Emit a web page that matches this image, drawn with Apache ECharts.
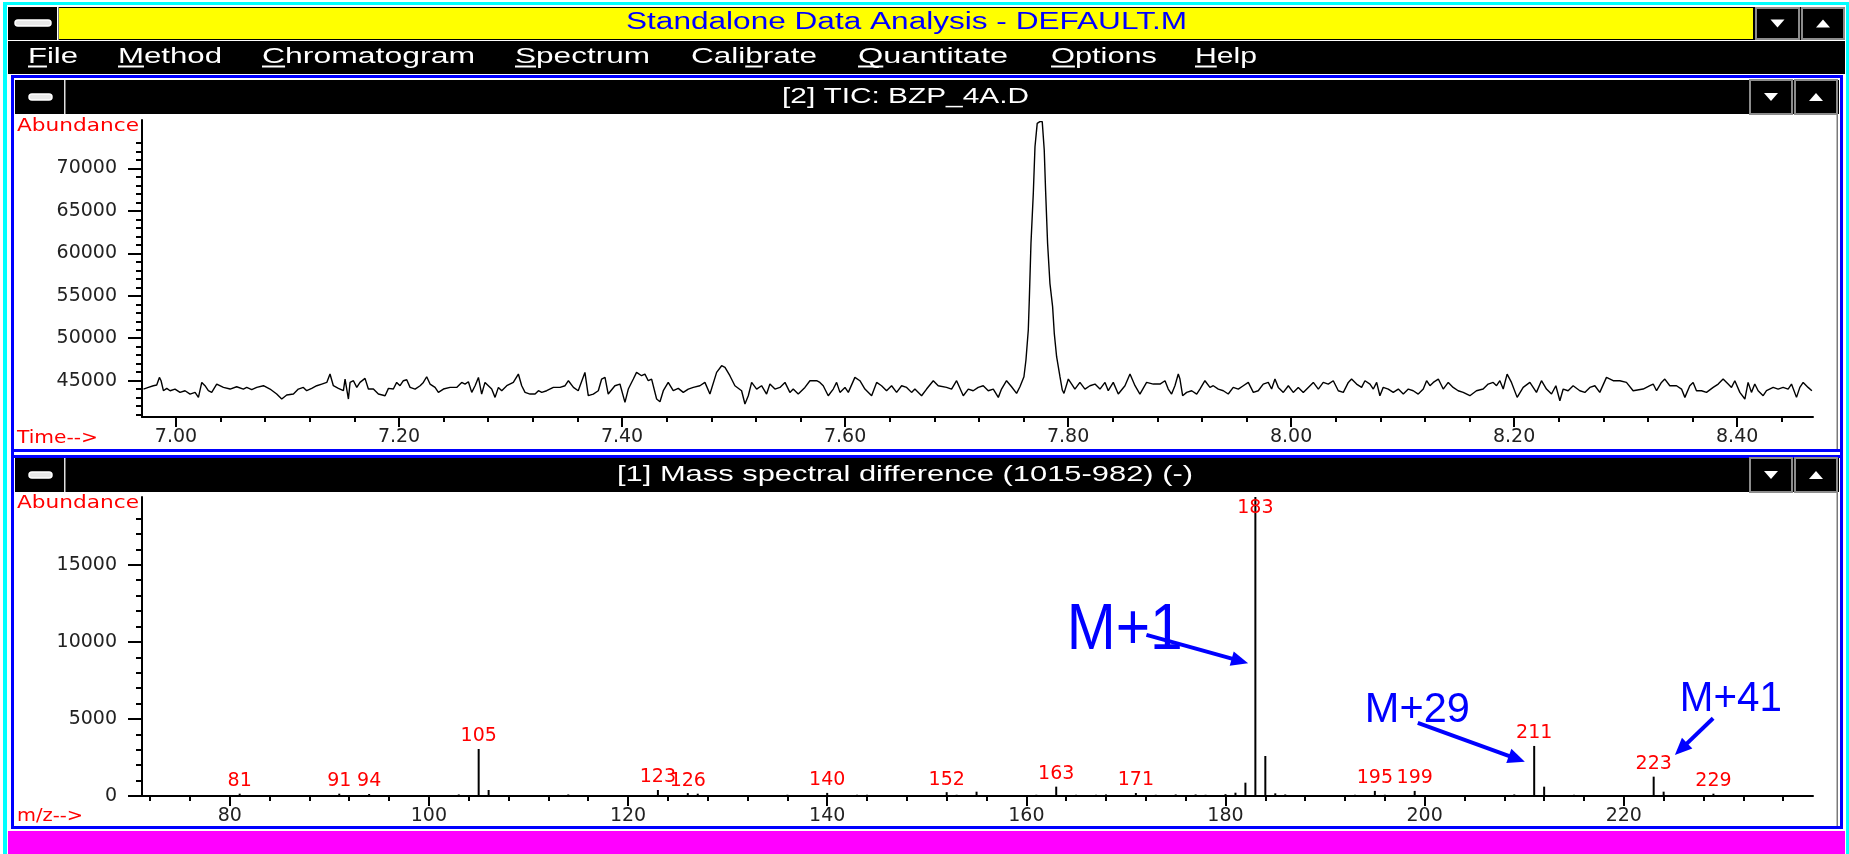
<!DOCTYPE html>
<html><head><meta charset="utf-8">
<script src="https://cdn.jsdelivr.net/npm/echarts@6/dist/echarts.min.js"></script>
<style>html,body{margin:0;padding:0;background:#fff;overflow:hidden}#c{width:1849px;height:854px}</style>
</head><body><div id="c"></div>
<script>
// ---------- DATA ----------
const ticTime = [6.9708,6.9752,6.9797,6.9827,6.9851,6.9866,6.9887,6.9917,6.9947,6.9991,7.0036,7.0081,7.0126,7.0171,7.0201,7.0231,7.0260,7.0290,7.0320,7.0365,7.0425,7.0485,7.0544,7.0604,7.0634,7.0679,7.0724,7.0784,7.0843,7.0903,7.0948,7.0993,7.1053,7.1097,7.1142,7.1172,7.1217,7.1262,7.1307,7.1352,7.1381,7.1411,7.1456,7.1501,7.1516,7.1546,7.1561,7.1591,7.1621,7.1650,7.1695,7.1725,7.1770,7.1815,7.1875,7.1905,7.1949,7.1979,7.2009,7.2039,7.2069,7.2099,7.2144,7.2189,7.2218,7.2248,7.2278,7.2323,7.2353,7.2398,7.2458,7.2517,7.2562,7.2592,7.2622,7.2652,7.2682,7.2712,7.2741,7.2771,7.2801,7.2831,7.2861,7.2891,7.2921,7.2966,7.3025,7.3070,7.3100,7.3130,7.3175,7.3220,7.3250,7.3280,7.3324,7.3384,7.3444,7.3489,7.3519,7.3564,7.3607,7.3667,7.3697,7.3742,7.3787,7.3817,7.3847,7.3876,7.3936,7.3981,7.4026,7.4056,7.4101,7.4130,7.4175,7.4205,7.4235,7.4265,7.4310,7.4340,7.4370,7.4414,7.4459,7.4504,7.4549,7.4594,7.4639,7.4698,7.4743,7.4788,7.4848,7.4893,7.4923,7.4967,7.5012,7.5072,7.5102,7.5132,7.5162,7.5207,7.5251,7.5296,7.5326,7.5371,7.5416,7.5461,7.5505,7.5535,7.5580,7.5640,7.5685,7.5745,7.5774,7.5804,7.5849,7.5894,7.5924,7.5954,7.5999,7.6029,7.6088,7.6133,7.6178,7.6238,7.6283,7.6327,7.6372,7.6417,7.6462,7.6507,7.6552,7.6596,7.6626,7.6686,7.6731,7.6791,7.6835,7.6910,7.6955,7.7000,7.7060,7.7105,7.7149,7.7194,7.7239,7.7284,7.7329,7.7374,7.7403,7.7448,7.7493,7.7538,7.7568,7.7604,7.7622,7.7643,7.7652,7.7667,7.7688,7.7703,7.7723,7.7747,7.7768,7.7786,7.7798,7.7816,7.7837,7.7861,7.7876,7.7897,7.7927,7.7948,7.7963,7.8002,7.8032,7.8061,7.8106,7.8151,7.8196,7.8241,7.8286,7.8331,7.8360,7.8405,7.8450,7.8510,7.8555,7.8600,7.8644,7.8704,7.8764,7.8824,7.8869,7.8898,7.8928,7.8958,7.8988,7.9003,7.9027,7.9063,7.9108,7.9153,7.9182,7.9227,7.9272,7.9302,7.9347,7.9392,7.9436,7.9481,7.9526,7.9571,7.9616,7.9661,7.9705,7.9750,7.9795,7.9825,7.9855,7.9885,7.9930,7.9975,8.0019,8.0064,8.0109,8.0154,8.0199,8.0244,8.0288,8.0333,8.0378,8.0423,8.0468,8.0513,8.0542,8.0587,8.0632,8.0662,8.0707,8.0737,8.0767,8.0796,8.0826,8.0871,8.0916,8.0961,8.1006,8.1051,8.1095,8.1140,8.1185,8.1215,8.1245,8.1275,8.1320,8.1364,8.1409,8.1453,8.1498,8.1543,8.1603,8.1662,8.1722,8.1767,8.1812,8.1842,8.1872,8.1902,8.1937,8.1976,8.2027,8.2081,8.2141,8.2200,8.2245,8.2290,8.2335,8.2374,8.2410,8.2440,8.2484,8.2529,8.2589,8.2634,8.2679,8.2724,8.2768,8.2828,8.2888,8.2948,8.3007,8.3067,8.3157,8.3217,8.3247,8.3277,8.3321,8.3351,8.3396,8.3456,8.3501,8.3531,8.3575,8.3605,8.3635,8.3680,8.3725,8.3785,8.3830,8.3874,8.3919,8.3949,8.3979,8.4024,8.4069,8.4098,8.4128,8.4158,8.4188,8.4233,8.4263,8.4323,8.4367,8.4412,8.4457,8.4487,8.4532,8.4562,8.4592,8.4636,8.4670];
const ticAbund = [44020,44216,44412,44490,45392,45000,43824,44098,43824,44020,43628,43824,43432,43628,43040,44804,44412,43824,43628,44608,44216,44020,44294,44020,44216,43942,44216,44412,44020,43432,42844,43314,43432,44020,44216,43824,44098,44412,44608,44804,45784,44412,44098,43824,45196,42844,44804,45000,44216,44804,45274,44020,44020,43432,43236,44098,44020,44804,44412,45000,45118,44216,44020,44412,44804,45470,44608,44216,43628,44020,44216,44216,44804,44608,44882,43628,44412,45392,43432,44804,44412,44020,43040,44216,43824,44412,44804,45784,44412,43628,43432,43432,43824,43628,43824,44216,44216,44412,45000,44216,43824,45980,43236,43432,43824,45196,45392,43432,44412,44608,42452,44020,45196,45980,45588,45784,45000,45196,42844,42530,43824,44804,43824,44098,43628,44020,44216,44412,44804,43432,45980,46764,46568,45588,44412,43824,42256,43236,44804,44020,44412,43432,44608,44020,44216,44804,43628,44020,43432,44216,45000,45000,44804,44412,43236,44020,44804,43628,44216,43628,45392,45000,44020,43236,44804,44412,43824,44412,43628,44412,44216,43628,44020,43236,44020,45000,44412,44216,44020,45000,43236,44020,43824,44216,44412,43824,44020,43040,44020,45000,44294,43516,44294,45471,47437,50968,54500,61175,67061,72546,75300,75500,75500,72158,67449,61175,56466,53719,50580,47825,45471,43905,43516,45196,44608,44020,44804,44020,44412,44608,44020,44804,43824,44804,43432,44412,45784,44412,43432,44804,44608,44608,45000,44020,43432,44412,45784,45196,43236,43628,43824,43432,44020,45000,44216,44412,44020,43824,43432,44216,44020,44412,44804,43628,43824,44608,44804,44020,45196,44216,43628,44412,43628,44216,43628,44216,44804,44020,44804,44608,45000,43824,43628,44804,45196,44608,44216,45000,44608,44020,44804,43236,44216,44020,43628,44020,43432,44020,43824,43432,44020,45000,44412,44804,45196,44020,44804,44216,43824,43628,43236,43824,44020,44608,44804,44412,45000,44020,45784,44804,43040,44216,44804,43628,45000,44020,43432,44412,42648,44020,43824,44412,43824,43628,44216,44412,43628,45392,45000,45000,44804,43824,44020,44412,44608,43824,44804,45196,44412,44412,44020,43040,44412,44804,43824,43824,43628,44216,44608,45196,44608,44216,45000,43628,42844,44804,43628,44608,43824,43236,43824,44216,44020,44216,44020,44608,43040,44216,44804,44216,43824];

const specMz    = [81,91,94,103,105,106,114,123,126,127,136,140,143,144,152,153,155,161,163,165,167,168,171,173,175,177,178,180,181,182,183,184,185,186,193,195,196,199,209,211,212,215,223,224,227,229];
const specAbund = [150,150,130,100,3050,390,100,390,190,150,80,200,80,80,250,80,280,80,606,80,80,100,195,80,100,100,80,120,214,864,19400,2597,173,100,80,330,80,330,100,3247,606,80,1255,281,60,150];
const specLabeled = [81,91,94,105,123,126,140,152,163,171,183,195,199,211,223,229];

const ticXLabels = ['7.00','7.20','7.40','7.60','7.80','8.00','8.20','8.40'];
const ticYLabels = [45000,50000,55000,60000,65000,70000];
const specXLabels = [80,100,120,140,160,180,200,220];
const specYLabels = [0,5000,10000,15000];

const windowTitle = 'Standalone Data Analysis - DEFAULT.M';
const menuItems = ['File','Method','Chromatogram','Spectrum','Calibrate','Quantitate','Options','Help'];
const menuUnderline = [0,0,0,0,4,0,0,0];
const ticTitle = '[2] TIC: BZP_4A.D';
const specTitle = '[1] Mass spectral difference (1015-982) (-)';

const annotations = [
  {text:'M+1',  at:[164.06,10680], from:[172.06,10455], to:[182.27,8617]},
  {text:'M+29', at:[193.99,5570],  from:[199.31,4740],  to:[210.06,2227]},
  {text:'M+41', at:[225.63,6250],  from:[228.97,5045],  to:[225.13,2662]}
];

// ---------- helpers ----------
function steps(a, b, s, d) { const r = []; const n = Math.round((b - a) / s); for (let i = 0; i <= n; i++) r.push(+((a + i * s).toFixed(d))); return r; }
const AX = {color:'#000', width:2};
const LBL = {color:'#222', fontFamily:'DejaVu Sans', fontSize:19};
function axisPair(grid, dim, min, max, major, minor, majLen, minLen, fmt, margin) {
  const pos = dim === 'x' ? 'bottom' : 'left';
  const base = {type:'value', gridIndex:grid, position:pos, min:min, max:max, splitLine:{show:false}, scale:true};
  return [
    Object.assign({}, base, {
      axisLine:{show:true, onZero:false, lineStyle:AX},
      axisTick:{show:true, inside:false, length:majLen, lineStyle:AX, customValues:major},
      axisLabel:Object.assign({show:true, customValues:major, formatter:fmt, margin:margin}, LBL)
    }),
    Object.assign({}, base, {
      axisLine:{show:false, onZero:false},
      axisTick:{show:true, inside:false, length:minLen, lineStyle:AX, customValues:minor},
      axisLabel:{show:false}
    })
  ];
}

const ticXMajor = ticXLabels.map(Number);
const ticXMinor = steps(7.00, 8.44, 0.04, 2);
const ticYMinor = steps(41000, 73000, 1000, 0);
const specXMinor = steps(72, 236, 4, 0);
const specYMinor = steps(1000, 18000, 1000, 0);

const chart = echarts.init(document.getElementById('c'), null, {renderer:'canvas', width:1849, height:854});

const barData = specMz.map((m, i) => {
  const item = {value:[m, specAbund[i]]};
  if (specLabeled.indexOf(m) >= 0) {
    item.label = {show:true, position: m === 183 ? 'insideTop' : 'top', distance: m === 183 ? 2 : 3,
      color:'#ff0000', fontFamily:'DejaVu Sans', fontSize:19, formatter:String(m)};
  }
  return item;
});

chart.setOption({
  animation:false,
  backgroundColor:'#ffffff',
  grid:[
    {left:142, top:120, width:1671, height:297},
    {left:142, top:497, width:1671, height:299}
  ],
  xAxis:[].concat(
    axisPair(0, 'x', 6.9695, 8.468, ticXMajor, ticXMinor, 10, 5, v => v.toFixed(2), 11),
    axisPair(1, 'x', 71.19, 239.0, specXLabels, specXMinor, 10, 5, v => String(v), 11)
  ),
  yAxis:[].concat(
    axisPair(0, 'y', 40730, 75690, ticYLabels, ticYMinor, 14, 6, v => String(v), 25),
    axisPair(1, 'y', 0, 19400, specYLabels, specYMinor, 14, 6, v => String(v), 25)
  ),
  series:[
    {type:'line', xAxisIndex:0, yAxisIndex:0, data:ticTime.map((t, i) => [t, ticAbund[i]]),
     symbol:'none', showSymbol:false, lineStyle:{color:'#000', width:1.4}, itemStyle:{color:'#000'}, silent:true},
    {type:'bar', xAxisIndex:2, yAxisIndex:2, data:barData, barWidth:2, itemStyle:{color:'#000'}, silent:true}
  ]
});

// ---------- window chrome ----------
const mctx = document.createElement('canvas').getContext('2d');
function tw(text, size, fam) { mctx.font = size + 'px ' + fam; return mctx.measureText(text).width; }
function fitText(text, left, width, cy, size, fam, color) {
  const s = width / tw(text, size, fam);
  return {el:{type:'text', x:left, y:cy, scaleX:s, silent:true, z:20,
    style:{text:text, fontSize:size, fontFamily:fam, fill:color, align:'left', verticalAlign:'middle'}}, scale:s};
}
function rect(x1, y1, x2, y2, fill, extra) {
  return Object.assign({type:'rect', silent:true, z:5, shape:{x:x1, y:y1, width:x2 - x1, height:y2 - y1}, style:{fill:fill}}, extra || {});
}
function tri(cx, cy, up) {
  const w = 7, h = 4;
  const pts = up ? [[cx - w, cy + h], [cx + w, cy + h], [cx, cy - h]] : [[cx - w, cy - h], [cx + w, cy - h], [cx, cy + h]];
  return {type:'polygon', silent:true, z:8, shape:{points:pts}, style:{fill:'#fff'}};
}
function button(x1, y1, x2, y2, up) {
  return [rect(x1, y1, x2, y2, '#000', {style:{fill:'#000', stroke:'#8c8c8c', lineWidth:2}, z:7}), tri((x1 + x2) / 2, (y1 + y2) / 2, up)];
}
function icon(x1, y1, x2, y2) {
  return rect(x1, y1, x2, y2, '#fff', {shape:{x:x1, y:y1, width:x2 - x1, height:y2 - y1, r:3}, style:{fill:'#e8e8e8', stroke:'#fff', lineWidth:1.5}, z:8});
}

const G = [];
// outer cyan frame
G.push(rect(3, 2, 1849, 5, '#00ffff'));
G.push(rect(3, 2, 7, 854, '#00ffff'));
G.push(rect(1846, 2, 1849, 854, '#00ffff'));
// main title bar
G.push(rect(8, 7, 1845, 40, '#000'));
G.push(rect(59, 8, 1753, 39, '#ffff00', {z:6}));
G.push(rect(57, 7, 58.5, 40, '#fff', {z:6}));
G.push(icon(15, 20, 51, 26));
G.push(...button(1756, 8, 1799, 39, false));
G.push(...button(1802, 8, 1844, 39, true));
// menu bar
G.push(rect(8, 41, 1845, 74, '#000'));
// blue window frames
G.push(rect(11, 75, 14, 829, '#0000ff'));
G.push(rect(1840, 75, 1843, 829, '#0000ff'));
G.push(rect(11, 75, 1843, 78, '#0000ff'));
G.push(rect(11, 449, 1843, 452, '#0000ff'));
G.push(rect(11, 455, 1843, 458, '#0000ff'));
G.push(rect(11, 826, 1843, 829, '#0000ff'));
G.push(rect(1836.5, 114, 1838, 449, '#7a7a7a'));
G.push(rect(1836.5, 492, 1838, 826, '#7a7a7a'));
// sub-window title bars
[[80, 114], [458, 492]].forEach(([a, b]) => {
  G.push(rect(15, a, 1839, b, '#000'));
  G.push(rect(64, a, 65.5, b, '#e0e0e0', {z:6}));
  G.push(icon(29, (a + b) / 2 - 3, 52, (a + b) / 2 + 3));
  G.push(...button(1750, a, 1792, b, false));
  G.push(...button(1795, a, 1837, b, true));
});
// magenta status bar
G.push(rect(8, 831, 1845, 854, '#ff00ff'));

// texts
G.push(fitText(windowTitle, 626, 561, 23, 23, 'Liberation Sans', '#0000ff').el);
const menuPos = [[28, 50], [118, 104], [262, 213], [515, 135], [691, 126], [858, 150], [1051, 106], [1195, 62]];
menuItems.forEach((m, i) => {
  const [left, width] = menuPos[i];
  const f = fitText(m, left, width, 57, 22, 'Liberation Sans', '#fff');
  G.push(f.el);
  const k = menuUnderline[i];
  const ux = left + tw(m.slice(0, k), 22, 'Liberation Sans') * f.scale;
  const uw = tw(m.charAt(k), 22, 'Liberation Sans') * f.scale;
  G.push(rect(ux, 65.5, ux + uw, 67.5, '#fff', {z:21}));
});
G.push(fitText(ticTitle, 782, 247, 97, 22, 'Liberation Sans', '#fff').el);
G.push(fitText(specTitle, 617, 576, 475, 22, 'Liberation Sans', '#fff').el);
G.push(fitText('Abundance', 17, 122, 126.5, 18, 'DejaVu Sans', '#ff0000').el);
G.push(fitText('Time-->', 17, 81, 438, 18, 'DejaVu Sans', '#ff0000').el);
G.push(fitText('Abundance', 17, 122, 503.5, 18, 'DejaVu Sans', '#ff0000').el);
G.push(fitText('m/z-->', 17, 66, 816.5, 18, 'DejaVu Sans', '#ff0000').el);

// annotations (anchored in data space of the spectrum)
const annoStyle = [{size:64, width:116}, {size:42, width:105}, {size:42, width:102}];
function px(p) { return chart.convertToPixel({xAxisIndex:2, yAxisIndex:2}, p); }
annotations.forEach((a, i) => {
  const t = px(a.at);
  G.push(fitText(a.text, t[0], annoStyle[i].width, t[1], annoStyle[i].size, 'Liberation Sans', '#0000ff').el);
  const p0 = px(a.from), p1 = px(a.to);
  const dx = p1[0] - p0[0], dy = p1[1] - p0[1], L = Math.hypot(dx, dy);
  const ux = dx / L, uy = dy / L, hl = 17, hw = 7.5;
  const bx = p1[0] - ux * hl, by = p1[1] - uy * hl;
  G.push({type:'line', silent:true, z:22, shape:{x1:p0[0], y1:p0[1], x2:bx + ux * 2, y2:by + uy * 2}, style:{stroke:'#0000ff', lineWidth:4}});
  G.push({type:'polygon', silent:true, z:22, shape:{points:[[p1[0], p1[1]], [bx - uy * hw, by + ux * hw], [bx + uy * hw, by - ux * hw]]}, style:{fill:'#0000ff'}});
});

chart.setOption({graphic:{elements:G}});
</script>
</body></html>
